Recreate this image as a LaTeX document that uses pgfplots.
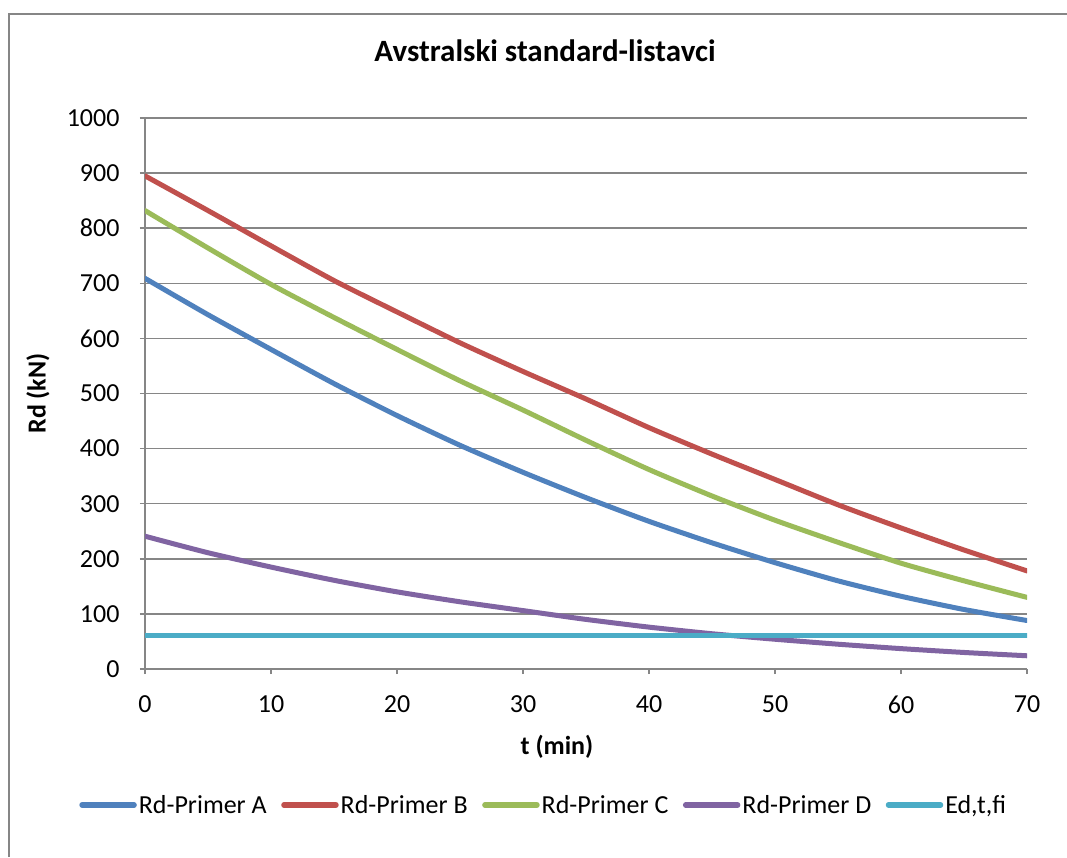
\documentclass[border=0pt]{standalone}
\usepackage{pgfplots}
\pgfplotsset{compat=1.18}
\usepackage{fontspec}
\setmainfont{Carlito}
\definecolor{cA}{HTML}{4F81BD}
\definecolor{cB}{HTML}{C0504D}
\definecolor{cC}{HTML}{9BBB59}
\definecolor{cD}{HTML}{8064A2}
\definecolor{cE}{HTML}{4BACC6}
\definecolor{axgray}{HTML}{868686}
\begin{document}
\begin{tikzpicture}
\useasboundingbox (0pt,0pt) rectangle (1067pt,857pt);
\fill[white] (0pt,0pt) rectangle (1067pt,857pt);
\draw[axgray, line width=2pt] (9pt,0pt) -- (9pt,843pt) -- (1067pt,843pt);
\begin{axis}[
  at={(145pt,188pt)}, anchor=south west,
  scale only axis, width=882pt, height=551pt,
  xmin=0, xmax=70, ymin=0, ymax=1000,
  xtick={0,10,...,70}, ytick={0,100,...,1000},
  axis lines*=left,
  axis line style={axgray, line width=1.5pt, -},
  ymajorgrids, grid style={axgray, line width=1.5pt},
  tick align=outside, major tick length=5pt,
  tick style={axgray, line width=1.5pt},
  every tick label/.append style={font=\fontsize{26}{30}\selectfont},
  /pgf/number format/assume math mode=true,
  /pgf/number format/1000 sep={},
  yticklabel style={xshift=-17pt},
  xticklabel style={yshift=-18pt},
  xlabel={\textbf{t (min)}},
  ylabel={\textbf{Rd (kN)}},
  xlabel style={font=\fontsize{26}{30}\selectfont, at={(axis description cs:0.467,-0.141)}, anchor=center},
  ylabel style={font=\fontsize{26}{30}\selectfont, at={(axis description cs:-0.1213,0.5)}, anchor=center, rotate=0},
  title={\textbf{Avstralski standard-listavci}},
  title style={font=\fontsize{31}{36}\selectfont, at={(axis description cs:0.4535,1.1107)}, anchor=center},
  legend columns=5,
  legend style={draw=none, fill=none, at={(axis description cs:0.4515,-0.2468)}, anchor=center,
    font=\fontsize{26}{30}\selectfont,
    nodes={inner sep=1pt},
    /tikz/every odd column/.append style={column sep=1pt},
    /tikz/every even column/.append style={column sep=13.5pt}},
  legend image code/.code={\draw[#1, line width=5.5pt, line cap=round] (0pt,0pt) -- (52pt,0pt);},
  every axis plot/.append style={line width=5pt, line cap=round, line join=round, smooth, tension=0.4},
]
\addplot[cA] coordinates {(0,709) (5,643) (10,580) (15,518) (20,460) (25,406) (30,357) (35,311) (40,268) (45,229) (50,193) (55,160) (60,132) (65,108) (70,88)};
\addlegendentry{Rd-Primer A}
\addplot[cB] coordinates {(0,895) (5,832) (10,768) (15,705) (20,648) (25,592) (30,540) (35,490) (40,438) (45,390) (50,344) (55,298) (60,256) (65,216) (70,178)};
\addlegendentry{Rd-Primer B}
\addplot[cC] coordinates {(0,832) (5,764) (10,698) (15,638) (20,580) (25,523) (30,470) (35,415) (40,362) (45,314) (50,270) (55,230) (60,192) (65,160) (70,130)};
\addlegendentry{Rd-Primer C}
\addplot[cD] coordinates {(0,241) (5,211) (10,185) (15,161) (20,140) (25,122) (30,106) (35,90) (40,76) (45,64) (50,54) (55,45) (60,37) (65,30) (70,24)};
\addlegendentry{Rd-Primer D}
\addplot[cE] coordinates {(0,60) (70,60)};
\addlegendentry{Ed,t,fi}
\end{axis}
\end{tikzpicture}
\end{document}
